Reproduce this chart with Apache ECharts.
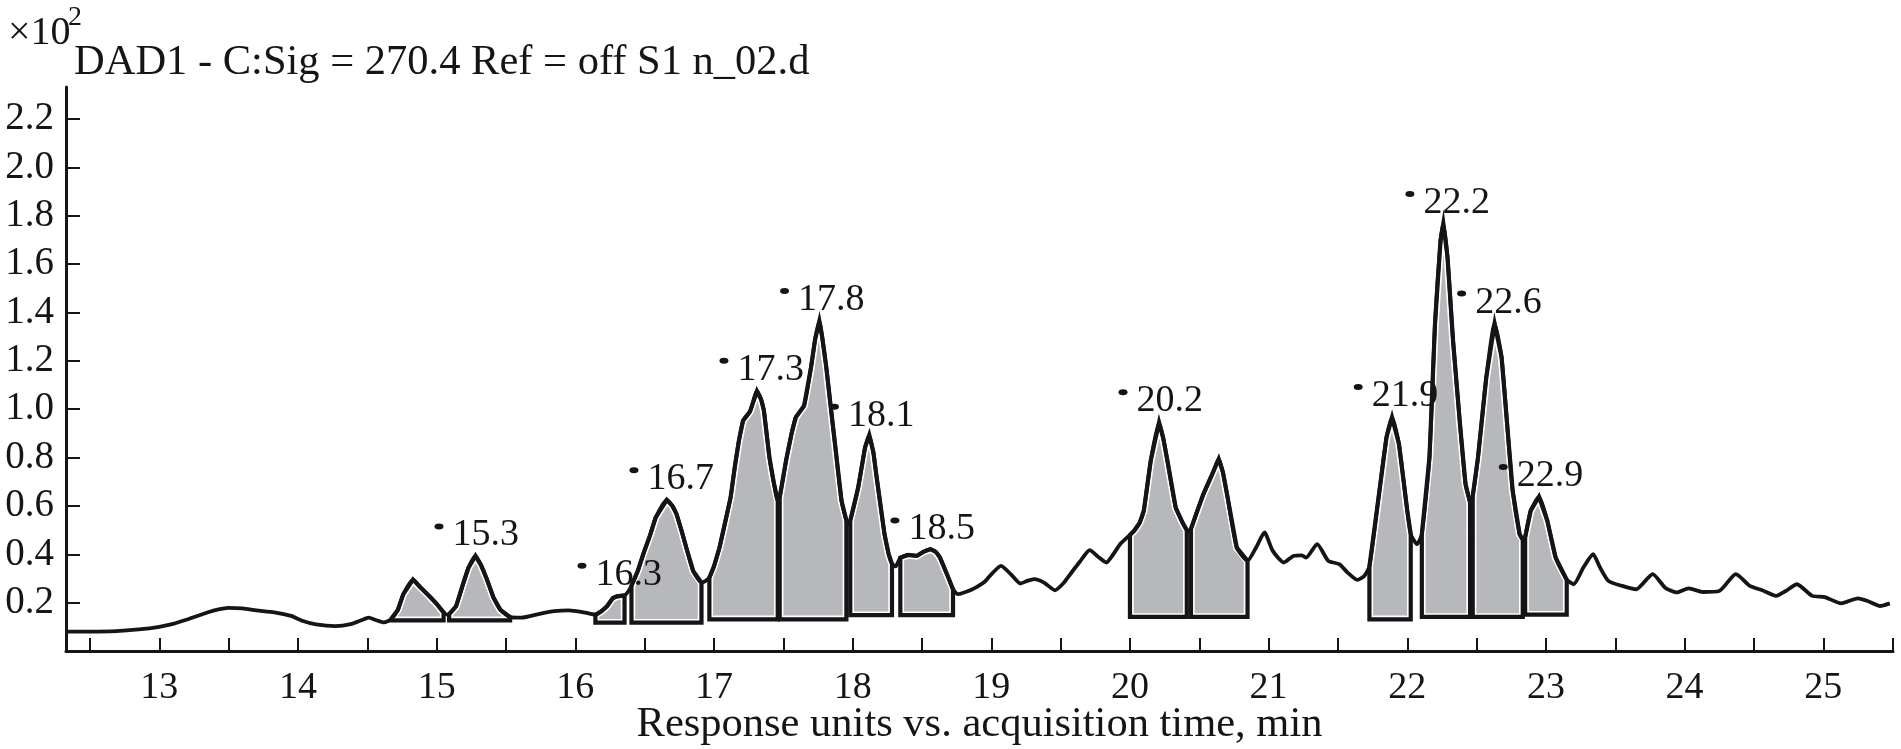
<!DOCTYPE html>
<html>
<head>
<meta charset="utf-8">
<script src="https://cdn.jsdelivr.net/npm/echarts@6/dist/echarts.min.js"></script>
<style>
html,body{margin:0;padding:0;background:#fff;}
#chart{width:1901px;height:749px;}
</style>
</head>
<body>
<div id="chart"></div>
<script>
// Acquisition time, min
const times = [
  12.33, 12.50, 12.69, 12.85, 13.00, 13.10, 13.20, 13.30, 13.39, 13.50,
  13.60, 13.70, 13.83, 13.95, 14.03, 14.13, 14.27, 14.38, 14.46, 14.51,
  14.56, 14.62, 14.67, 14.72, 14.76, 14.83, 14.88, 14.95, 15.00, 15.05,
  15.08, 15.09, 15.14, 15.19, 15.23, 15.28, 15.32, 15.36, 15.41, 15.46,
  15.53, 15.61, 15.75, 15.85, 15.95, 16.06, 16.145, 16.19, 16.23, 16.27,
  16.30, 16.355, 16.38, 16.405, 16.45, 16.49, 16.54, 16.58, 16.66, 16.70,
  16.73, 16.77, 16.80, 16.85, 16.91, 16.94, 16.967, 17.00, 17.04, 17.08,
  17.12, 17.15, 17.18, 17.21, 17.26, 17.31, 17.34, 17.36, 17.40, 17.43,
  17.46, 17.474, 17.52, 17.56, 17.59, 17.65, 17.70, 17.73, 17.76, 17.78,
  17.81, 17.84, 17.87, 17.92, 17.955, 17.97, 17.983, 18.04, 18.09, 18.12,
  18.15, 18.17, 18.23, 18.26, 18.284, 18.31, 18.344, 18.40, 18.46, 18.51,
  18.56, 18.60, 18.63, 18.69, 18.724, 18.76, 18.82, 18.88, 18.95, 19.00,
  19.07, 19.14, 19.21, 19.26, 19.31, 19.38, 19.46, 19.52, 19.57, 19.64,
  19.71, 19.77, 19.83, 19.88, 19.93, 20.00, 20.03, 20.07, 20.10, 20.15,
  20.21, 20.24, 20.27, 20.33, 20.38, 20.41, 20.43, 20.44, 20.48, 20.53,
  20.60, 20.64, 20.67, 20.70, 20.77, 20.848, 20.91, 20.97, 21.03, 21.11,
  21.18, 21.24, 21.27, 21.35, 21.43, 21.51, 21.57, 21.64, 21.69, 21.727,
  21.79, 21.85, 21.89, 21.94, 22.00, 22.025, 22.07, 22.105, 22.16, 22.20,
  22.24, 22.26, 22.29, 22.33, 22.38, 22.42, 22.453, 22.46, 22.472, 22.51,
  22.57, 22.63, 22.68, 22.72, 22.76, 22.81, 22.833, 22.84, 22.85, 22.89,
  22.95, 23.01, 23.07, 23.15, 23.20, 23.27, 23.34, 23.39, 23.45, 23.55,
  23.65, 23.77, 23.86, 23.94, 24.03, 24.13, 24.25, 24.37, 24.47, 24.56,
  24.66, 24.73, 24.81, 24.92, 25.01, 25.13, 25.25, 25.32, 25.41, 25.48
];
// Response units (x10^2)
const signal = [
  0.080, 0.080, 0.082, 0.089, 0.100, 0.112, 0.130, 0.150, 0.167, 0.178,
  0.176, 0.168, 0.160, 0.145, 0.125, 0.110, 0.103, 0.111, 0.128, 0.138,
  0.128, 0.118, 0.131, 0.170, 0.235, 0.295, 0.265, 0.225, 0.195, 0.160,
  0.150, 0.152, 0.185, 0.276, 0.345, 0.393, 0.355, 0.300, 0.221, 0.170,
  0.140, 0.138, 0.155, 0.165, 0.168, 0.160, 0.150, 0.165, 0.186, 0.218,
  0.226, 0.230, 0.245, 0.270, 0.330, 0.400, 0.480, 0.552, 0.625, 0.600,
  0.566, 0.490, 0.428, 0.331, 0.283, 0.290, 0.304, 0.350, 0.428, 0.530,
  0.635, 0.760, 0.870, 0.952, 0.990, 1.074, 1.040, 0.994, 0.800, 0.700,
  0.621, 0.635, 0.787, 0.900, 0.966, 1.014, 1.173, 1.290, 1.364, 1.300,
  1.173, 1.020, 0.870, 0.621, 0.540, 0.525, 0.540, 0.676, 0.842, 0.893,
  0.820, 0.732, 0.483, 0.400, 0.360, 0.350, 0.386, 0.397, 0.393, 0.410,
  0.421, 0.410, 0.386, 0.304, 0.255, 0.235, 0.245, 0.260, 0.285, 0.317,
  0.352, 0.318, 0.279, 0.290, 0.297, 0.283, 0.251, 0.280, 0.318, 0.370,
  0.417, 0.390, 0.366, 0.400, 0.442, 0.480, 0.497, 0.530, 0.580, 0.787,
  0.945, 0.880, 0.787, 0.593, 0.530, 0.500, 0.497, 0.505, 0.570, 0.649,
  0.740, 0.794, 0.740, 0.649, 0.428, 0.373, 0.428, 0.490, 0.414, 0.366,
  0.393, 0.395, 0.386, 0.442, 0.373, 0.359, 0.324, 0.294, 0.310, 0.350,
  0.621, 0.883, 0.966, 0.856, 0.580, 0.483, 0.442, 0.483, 0.800, 1.353,
  1.698, 1.767, 1.629, 1.284, 0.939, 0.690, 0.614, 0.610, 0.640, 0.800,
  1.132, 1.353, 1.215, 0.939, 0.663, 0.483, 0.460, 0.455, 0.470, 0.580,
  0.638, 0.538, 0.386, 0.295, 0.276, 0.345, 0.400, 0.345, 0.290, 0.269,
  0.255, 0.318, 0.262, 0.242, 0.259, 0.244, 0.248, 0.318, 0.269, 0.251,
  0.228, 0.248, 0.276, 0.228, 0.223, 0.197, 0.218, 0.207, 0.186, 0.197
];
// Integrated peak regions
const boxStart = [14.67, 15.09, 16.145, 16.405, 16.967, 17.474, 17.983, 18.344, 20.00, 20.44, 21.727, 22.105, 22.472, 22.85];
const boxEnd   = [15.05, 15.53, 16.355, 16.91, 17.46, 17.955, 18.284, 18.724, 20.41, 20.848, 22.025, 22.453, 22.833, 23.15];
const boxBase  = [0.127, 0.127, 0.117, 0.117, 0.131, 0.131, 0.148, 0.148, 0.141, 0.141, 0.131, 0.141, 0.141, 0.150];
// Peak annotations (marker position)
const peakNames  = ['15.3', '16.3', '16.7', '17.3', '17.8', '18.1', '18.5', '20.2', '21.9', '22.2', '22.6', '22.9'];
const peakLabelT = [15.017, 16.048, 16.423, 17.072, 17.509, 17.869, 18.305, 19.950, 21.646, 22.019, 22.392, 22.692];
const peakLabelV = [0.515, 0.352, 0.747, 1.200, 1.488, 1.010, 0.540, 1.070, 1.092, 1.890, 1.478, 0.761];
// Axis ticks
const xTickValues = [12.5, 13, 13.5, 14, 14.5, 15, 15.5, 16, 16.5, 17, 17.5, 18, 18.5, 19, 19.5, 20, 20.5, 21, 21.5, 22, 22.5, 23, 23.5, 24, 24.5, 25, 25.5];
const xLabelValues = [13, 14, 15, 16, 17, 18, 19, 20, 21, 22, 23, 24, 25];
const yTickValues = [0.2, 0.4, 0.6, 0.8, 1.0, 1.2, 1.4, 1.6, 1.8, 2.0, 2.2];

const INK = '#151515';
const FONT = '"Liberation Serif", "Times New Roman", serif';

function boxPoints(api) {
  const s = api.value(0), e = api.value(1), b = api.value(2);
  const pts = [];
  for (let i = 0; i < times.length; i++) {
    if (times[i] >= s - 1e-9 && times[i] <= e + 1e-9) pts.push(api.coord([times[i], signal[i]]));
  }
  pts.push(api.coord([e, b]));
  pts.push(api.coord([s, b]));
  return pts;
}

const boxData = boxStart.map((s, i) => [s, boxEnd[i], boxBase[i]]);

const chart = echarts.init(document.getElementById('chart'), null, {renderer: 'canvas'});
chart.setOption({
  animation: false,
  backgroundColor: '#ffffff',
  title: [
    {text: '×10', left: 3, top: 8, textStyle: {fontFamily: FONT, fontWeight: 'normal', fontSize: 40, color: INK}},
    {text: '2', left: 63, top: -1, textStyle: {fontFamily: FONT, fontWeight: 'normal', fontSize: 28, color: INK}},
    {text: 'DAD1 - C:Sig = 270.4 Ref = off S1 n_02.d', left: 69, top: 36, textStyle: {fontFamily: FONT, fontWeight: 'normal', fontSize: 42.5, color: INK}}
  ],
  grid: {left: 66, right: 8, top: 87, bottom: 98, containLabel: false, outerBoundsMode: 'none'},
  xAxis: {
    type: 'value', min: 12.327, max: 25.503,
    name: 'Response units vs. acquisition time, min',
    nameLocation: 'middle', nameGap: 52, nameMoveOverlap: false,
    nameTextStyle: {fontFamily: FONT, fontSize: 42.5, color: INK},
    axisLine: {show: true, onZero: false, lineStyle: {color: INK, width: 3}},
    axisTick: {show: true, inside: true, length: 13, customValues: xTickValues, lineStyle: {color: INK, width: 2}},
    axisLabel: {show: true, customValues: xLabelValues, margin: 18, fontFamily: FONT, fontSize: 38, color: INK},
    splitLine: {show: false}
  },
  yAxis: {
    type: 'value', min: 0, max: 2.332,
    axisLine: {show: true, onZero: false, lineStyle: {color: INK, width: 3}},
    axisTick: {show: true, inside: true, length: 14, customValues: yTickValues, lineStyle: {color: INK, width: 2}},
    axisLabel: {show: true, customValues: yTickValues, margin: 12, fontFamily: FONT, fontSize: 39, color: INK,
      formatter: v => Number(v).toFixed(1)},
    splitLine: {show: false}
  },
  series: [
    {
      type: 'custom', name: 'areaFill', z: 1, clip: false, silent: true,
      data: boxData,
      renderItem: (params, api) => ({
        type: 'polygon', shape: {points: boxPoints(api)},
        style: {fill: '#b7b8bb', stroke: '#ffffff', lineWidth: 7.5, lineJoin: 'miter'}
      })
    },
    {
      type: 'custom', name: 'areaEdge', z: 2, clip: false, silent: true,
      data: boxData,
      renderItem: (params, api) => ({
        type: 'polygon', shape: {points: boxPoints(api)},
        style: {fill: 'none', stroke: INK, lineWidth: 4.2, lineJoin: 'miter'}
      })
    },
    {
      type: 'line', name: 'signal', z: 3, silent: true,
      data: times.map((t, i) => [t, signal[i]]),
      showSymbol: false, smooth: 0.2,
      lineStyle: {color: INK, width: 3.8}
    },
    {
      type: 'scatter', name: 'peaks', z: 4, silent: true,
      data: peakLabelT.map((t, i) => [t, peakLabelV[i]]),
      symbol: 'circle', symbolSize: [9, 6],
      itemStyle: {color: INK, opacity: 1},
      label: {
        show: true, position: 'right', distance: 9, offset: [0, 9],
        formatter: p => peakNames[p.dataIndex],
        fontFamily: FONT, fontSize: 38, color: INK, opacity: 1
      }
    }
  ]
});
</script>
</body>
</html>
